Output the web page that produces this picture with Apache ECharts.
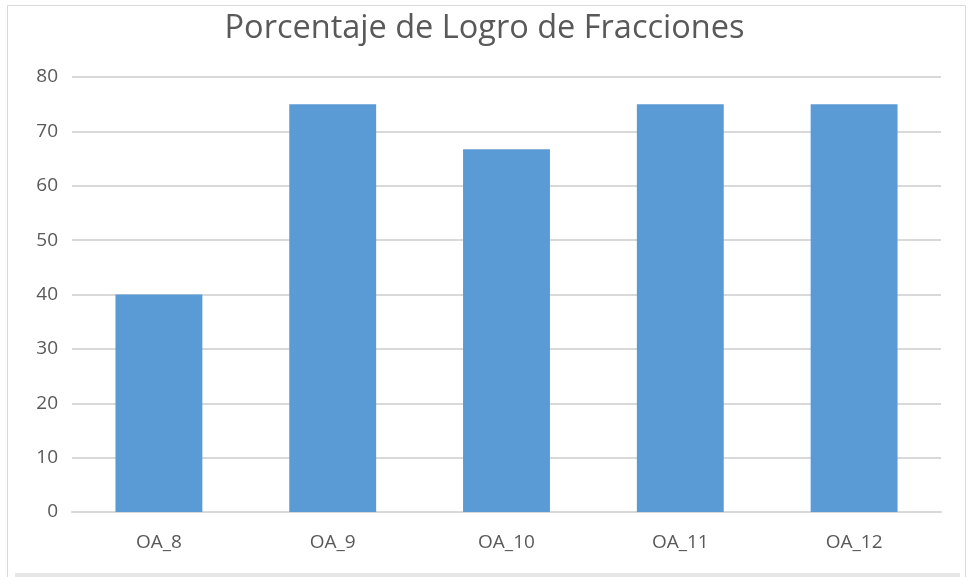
<!DOCTYPE html>
<html>
<head>
<meta charset="utf-8">
<script src="https://cdn.jsdelivr.net/npm/echarts@6/dist/echarts.min.js"></script>
<style>
  html, body { margin: 0; padding: 0; background: #ffffff; }
  #chart { width: 969px; height: 577px; }
</style>
</head>
<body>
<div id="chart"></div>
<script>
// Achievement percentage per learning objective
const categories = ['OA_8', 'OA_9', 'OA_10', 'OA_11', 'OA_12'];
const logro = [40, 75, 66.7, 75, 75];
const yTicks = { min: 0, max: 80, interval: 10 };

const FONT = 'Open Sans';
const chart = echarts.init(document.getElementById('chart'));

chart.setOption({
  animation: false,
  backgroundColor: '#ffffff',
  title: {
    text: 'Porcentaje de Logro de Fracciones',
    left: 'center',
    top: 7,
    textStyle: { fontFamily: FONT, fontSize: 32.5, fontWeight: 'normal', color: '#595959' }
  },
  graphic: [
    {
      type: 'rect',
      shape: { x: 7.5, y: 5.5, width: 958, height: 580 },
      style: { fill: 'none', stroke: '#d9d9d9', lineWidth: 1 },
      z: -1
    },
    {
      type: 'rect',
      shape: { x: 15, y: 573, width: 945, height: 4 },
      style: { fill: '#e6e6e6' },
      z: -1
    }
  ],
  grid: { left: 72, right: 28, top: 77, bottom: 65 },
  xAxis: {
    type: 'category',
    data: categories,
    axisTick: { show: false },
    axisLine: { lineStyle: { color: '#d9d9d9', width: 2 } },
    axisLabel: { fontFamily: FONT, fontSize: 19, color: '#595959', margin: 21 }
  },
  yAxis: {
    type: 'value',
    min: yTicks.min,
    max: yTicks.max,
    interval: yTicks.interval,
    axisLine: { show: false },
    axisTick: { show: false },
    splitLine: { lineStyle: { color: '#d9d9d9', width: 2 } },
    axisLabel: { fontFamily: FONT, fontSize: 19, color: '#595959', margin: 14 }
  },
  series: [{
    type: 'bar',
    data: logro,
    barWidth: '50%',
    itemStyle: { color: '#5b9bd5' }
  }]
});
</script>
</body>
</html>
